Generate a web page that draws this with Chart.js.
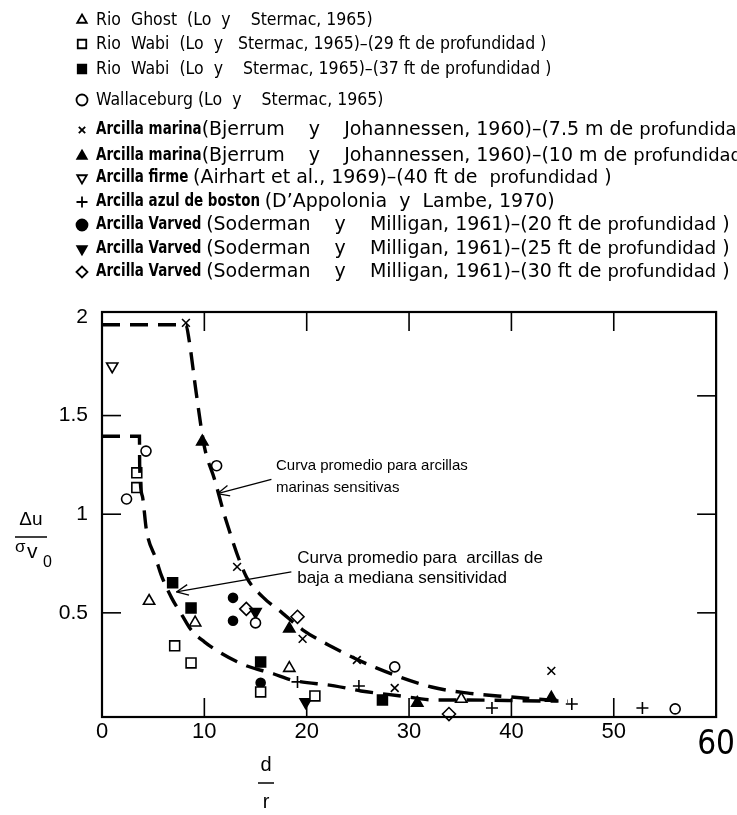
<!DOCTYPE html>
<html><head><meta charset="utf-8">
<script src="https://cdn.jsdelivr.net/npm/chart.js@4.4.1/dist/chart.umd.min.js"></script>
<style>html,body{margin:0;padding:0;background:#fff;}canvas{display:block;}</style>
</head><body>
<canvas id="c" width="737" height="815"></canvas>
<script>
// ---- data (d/r, Δu/σv0) ----
const rioGhost    = [[4.6,0.56],[9.1,0.45],[18.3,0.22],[35.1,0.063]];
const rioWabi29   = [[3.4,1.21],[3.4,1.135],[7.1,0.333],[8.7,0.246],[15.5,0.099],[20.8,0.079]];
const rioWabi37   = [[6.9,0.652],[8.7,0.525],[15.5,0.251],[27.4,0.058]];
const wallaceburg = [[2.4,1.077],[4.3,1.32],[11.2,1.246],[15.0,0.449],[28.6,0.226],[56.0,0.013]];
const marina75    = [[8.2,1.97],[13.2,0.733],[19.6,0.368],[24.9,0.261],[28.6,0.119],[43.9,0.206]];
const marina10    = [[9.8,1.368],[18.3,0.419],[30.8,0.043],[43.9,0.069]];
const firme       = [[1.0,1.75]];
const boston      = [[19.1,0.15],[25.1,0.129],[38.1,0.018],[45.9,0.038],[52.8,0.018]];
const varved20    = [[12.8,0.576],[12.8,0.46],[15.5,0.145]];
const varved25    = [[15.0,0.505],[19.9,0.048]];
const varved30    = [[14.1,0.52],[19.1,0.48],[33.9,-0.013]];
const curveMarine = [[0,1.96],[8.2,1.96],[8.5,1.886],[9.2,1.617],[10,1.343],[11,1.176],[12.1,0.972],[14.1,0.683],[15.7,0.581],[17.6,0.5],[19.6,0.414],[22.5,0.327],[26.8,0.221],[32.2,0.124],[35.6,0.094],[39.8,0.074],[43.7,0.058],[45.5,0.052]];
const curveLow    = [[0,1.395],[3.66,1.395],[3.68,1.25],[3.95,1.09],[4.34,0.92],[5.3,0.77],[5.8,0.69],[6.8,0.576],[7.8,0.49],[8.7,0.414],[10,0.353],[11.5,0.30],[13.9,0.236],[16.8,0.19],[18.5,0.16],[22.7,0.13],[25.3,0.104],[29,0.08],[32.6,0.058],[35.9,0.058],[43.4,0.053],[44.6,0.053]];
const xTickValues = [0,10,20,30,40,50,60];
const yTickValues = [0.5,1,1.5,2];
const xInnerTicks = [10,20,30,40,50];
const yLeftTicks  = [0.5,1,1.5];
const yRightTicks = [0.5,1,1.6];
const labels = [
  'Rio  Ghost  (Lo  y    Stermac, 1965)',
  'Rio  Wabi  (Lo  y   Stermac, 1965)\u2013(29 ft de profundidad )',
  'Rio  Wabi  (Lo  y    Stermac, 1965)\u2013(37 ft de profundidad )',
  'Wallaceburg (Lo  y    Stermac, 1965)',
  'Arcilla marina(Bjerrum    y    Johannessen, 1960)\u2013(7.5 m de profundidad)',
  'Arcilla marina(Bjerrum    y    Johannessen, 1960)\u2013(10 m de profundidad)',
  'Arcilla firme (Airhart et al., 1969)\u2013(40 ft de  profundidad )',
  'Arcilla azul de boston (D\u2019Appolonia  y  Lambe, 1970)',
  'Arcilla Varved (Soderman    y    Milligan, 1961)\u2013(20 ft de profundidad )',
  'Arcilla Varved (Soderman    y    Milligan, 1961)\u2013(25 ft de profundidad )',
  'Arcilla Varved (Soderman    y    Milligan, 1961)\u2013(30 ft de profundidad )'
];

const NARROW = '"Liberation Sans Narrow", "DejaVu Sans Condensed", "Liberation Sans", sans-serif';
const SANS = '"Liberation Sans", Arial, sans-serif';
const pts = a => a.map(([x,y]) => ({x,y}));
const mk = (label, data, style, filled, radius, rotation) => ({
  label, data: pts(data), pointStyle: style, pointRadius: radius, pointHoverRadius: radius,
  pointRotation: rotation || 0, pointBackgroundColor: filled ? '#000' : '#fff',
  pointBorderColor: '#000', pointBorderWidth: 1.6, showLine: false, clip: false, inLegend: true
});
const curve = (label, data) => ({
  label, data: pts(data), showLine: true, pointRadius: 0, borderColor: '#000', borderWidth: 3.4,
  borderDash: [18, 10], cubicInterpolationMode: 'monotone', fill: false, clip: false
});

const datasets = [
  curve('Curva promedio para arcillas marinas sensitivas', curveMarine),
  curve('Curva promedio para arcillas de baja a mediana sensitividad', curveLow),
  mk(labels[0], rioGhost, 'triangle', false, 6.5),
  mk(labels[1], rioWabi29, 'rect', false, 7),
  mk(labels[2], rioWabi37, 'rect', true, 7),
  mk(labels[3], wallaceburg, 'circle', false, 5),
  mk(labels[4], marina75, 'crossRot', false, 5.5),
  mk(labels[5], marina10, 'triangle', true, 6.5),
  mk(labels[6], firme, 'triangle', false, 6.5, 180),
  mk(labels[7], boston, 'cross', false, 6),
  mk(labels[8], varved20, 'circle', true, 4.5),
  mk(labels[9], varved25, 'triangle', true, 6.5, 180),
  mk(labels[10], varved30, 'rectRot', false, 6.5)
];

const legendPlugin = {
  id: 'customLegend',
  afterDraw(chart, args, o) {
    const ctx = chart.ctx;
    const items = chart.data.datasets.filter(d => d.inLegend);
    items.forEach((d, i) => {
      const y = o.rowY[i];
      ctx.save();
      ctx.fillStyle = d.pointBackgroundColor; ctx.strokeStyle = '#000'; ctx.lineWidth = 1.8;
      const r = d.pointStyle === 'rect' ? 6 : (d.pointStyle === 'crossRot' ? 4.5 : 5.5);
      Chart.helpers.drawPoint(ctx, {pointStyle: d.pointStyle, rotation: d.pointRotation, radius: r, borderWidth: 1.8}, o.markerX, y);
      ctx.fillStyle = '#000'; ctx.textBaseline = 'middle'; ctx.textAlign = 'left';
      let x = o.textX;
      let rest = d.label;
      const segs = [];
      const m = rest.match(/^(Arcilla[^(]*)(.*)$/);
      const reg = m ? o.arcillaFont : o.font;
      const sxReg = m ? o.arcillaScale : 1;
      if (m) { segs.push([m[1], o.boldFont, o.boldScale]); rest = m[2]; }
      const parts = rest.split('profundidad');
      parts.forEach((p, k) => { if (p) segs.push([p, reg, sxReg]); if (k < parts.length - 1) segs.push(['profundidad', m ? o.arcillaSmall : o.smallFont, sxReg]); });
      segs.forEach(([t, f, sx]) => {
        ctx.font = f;
        ctx.save(); ctx.translate(x, y); ctx.scale(sx, 1); ctx.fillText(t, 0, 0); ctx.restore();
        x += ctx.measureText(t).width * sx;
      });
      ctx.restore();
    });
  }
};

const decor = {
  id: 'decor',
  afterDatasetsDraw(chart, args, o) {
    const {ctx, chartArea: a, scales: {x, y}} = chart;
    ctx.save();
    ctx.strokeStyle = '#000'; ctx.fillStyle = '#000';
    const seg = (x1, y1, x2, y2) => { ctx.beginPath(); ctx.moveTo(x1, y1); ctx.lineTo(x2, y2); ctx.stroke(); };
    ctx.lineWidth = 2.2;
    ctx.strokeRect(a.left, a.top, a.right - a.left, a.bottom - a.top);
    ctx.lineWidth = 1.6;
    o.xInner.forEach(v => { const p = x.getPixelForValue(v); seg(p, a.bottom, p, a.bottom - o.tickLen); seg(p, a.top, p, a.top + o.tickLen); });
    o.yLeft.forEach(v => { const p = y.getPixelForValue(v); seg(a.left, p, a.left + o.tickLen, p); });
    o.yRight.forEach(v => { const p = y.getPixelForValue(v); seg(a.right, p, a.right - o.tickLen, p); });
    // annotations
    ctx.textBaseline = 'middle'; ctx.textAlign = 'left';
    o.notes.forEach(n => {
      ctx.font = n.font;
      n.lines.forEach((t, i) => ctx.fillText(t, x.getPixelForValue(n.x), y.getPixelForValue(n.y[i])));
      const tx = x.getPixelForValue(n.tail[0]), ty = y.getPixelForValue(n.tail[1]);
      const hx = x.getPixelForValue(n.head[0]), hy = y.getPixelForValue(n.head[1]);
      ctx.lineWidth = 1.3;
      seg(tx, ty, hx, hy);
      const ang = Math.atan2(ty - hy, tx - hx);
      [0.42, -0.42].forEach(dd => seg(hx, hy, hx + 13 * Math.cos(ang + dd), hy + 13 * Math.sin(ang + dd)));
    });
    // y axis title: Δu / σv0
    ctx.textBaseline = 'alphabetic';
    ctx.textAlign = 'center'; ctx.font = '19px ' + SANS;
    ctx.fillText('\u0394u', 31, 525);
    ctx.lineWidth = 1.5; seg(15, 537, 47, 537);
    ctx.textAlign = 'left';
    ctx.font = '17px ' + SANS; ctx.fillText('\u03c3', 15, 552);
    ctx.font = '21px ' + SANS; ctx.fillText('v', 27, 558);
    ctx.font = '16px ' + SANS; ctx.fillText('0', 43, 567);
    // x axis title: d / r
    ctx.textAlign = 'center'; ctx.font = '20px ' + SANS;
    ctx.fillText('d', 266, 771);
    seg(258, 783, 274, 783);
    ctx.fillText('r', 266, 808);
    ctx.restore();
  }
};

new Chart(document.getElementById('c'), {
  type: 'scatter',
  data: { datasets },
  options: {
    responsive: false, animation: false, devicePixelRatio: 1,
    layout: { padding: { top: 312, right: 20, bottom: 0, left: 0 } },
    plugins: {
      legend: { display: false }, title: { display: false }, tooltip: { enabled: false },
      customLegend: {
        rowY: [20, 44, 69, 100, 130, 156, 178, 202, 225, 249, 272],
        markerX: 82, textX: 96,
        font: '17.5px ' + NARROW, smallFont: '17.5px ' + NARROW,
        arcillaFont: '19px ' + NARROW, arcillaSmall: '18px ' + NARROW, arcillaScale: 1.11,
        boldFont: 'bold 17px ' + NARROW, boldScale: 0.88
      },
      decor: {
        xInner: xInnerTicks, yLeft: yLeftTicks, yRight: yRightTicks, tickLen: 19,
        notes: [
          { font: '15px ' + SANS, lines: ['Curva promedio para arcillas', 'marinas sensitivas'], x: 17.0, y: [1.246, 1.135], tail: [16.55, 1.176], head: [11.27, 1.104] },
          { font: '17px ' + SANS, lines: ['Curva promedio para  arcillas de', 'baja a mediana sensitividad'], x: 19.07, y: [0.774, 0.673], tail: [18.5, 0.708], head: [7.27, 0.606] }
        ]
      }
    },
    scales: {
      x: {
        type: 'linear', min: 0, max: 60,
        grid: { display: false, drawTicks: false }, border: { display: false },
        afterBuildTicks: s => { s.ticks = xTickValues.map(v => ({ value: v })); },
        afterFit: s => { s.height = 98; },
        ticks: {
          color: '#000', padding: 2, maxRotation: 0, autoSkip: false,
          font: c => (c.tick && c.tick.value === 60) ? { family: NARROW, size: 33, lineHeight: 1.6 } : { family: SANS, size: 22 }
        }
      },
      y: {
        type: 'linear', min: -0.028, max: 2.025,
        grid: { display: false, drawTicks: false }, border: { display: false },
        afterBuildTicks: s => { s.ticks = yTickValues.map(v => ({ value: v })); },
        afterFit: s => { s.width = 102; },
        ticks: { color: '#000', padding: 14, autoSkip: false, font: { family: SANS, size: 21 }, callback: v => String(v) }
      }
    }
  },
  plugins: [legendPlugin, decor]
});
</script>
</body></html>
